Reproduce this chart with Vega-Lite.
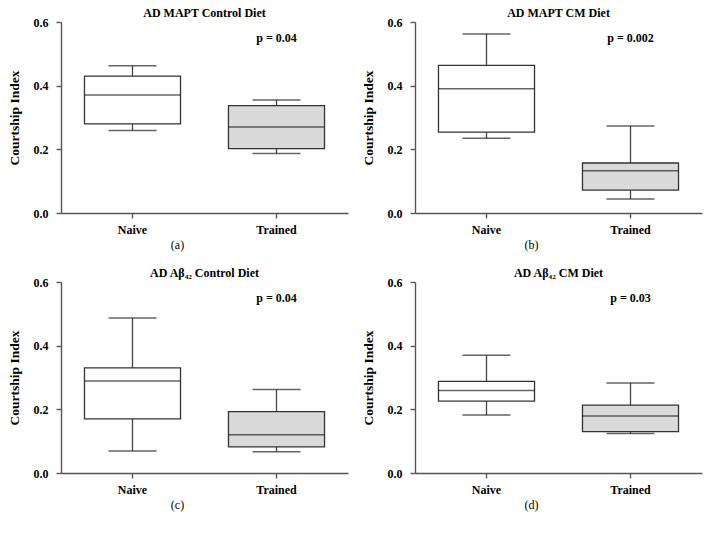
{
  "$schema": "https://vega.github.io/schema/vega-lite/v6.json",
  "background": "white",
  "padding": {"left": 7, "top": 7, "right": 5, "bottom": 5},
  "datasets": {
    "boxes": [
      {"panel": "a", "group": "Naive", "min": 0.259, "q1": 0.280, "median": 0.371, "q3": 0.430, "max": 0.4625},
      {"panel": "a", "group": "Trained", "min": 0.187, "q1": 0.202, "median": 0.270, "q3": 0.3375, "max": 0.355},
      {"panel": "b", "group": "Naive", "min": 0.235, "q1": 0.254, "median": 0.390, "q3": 0.464, "max": 0.562},
      {"panel": "b", "group": "Trained", "min": 0.044, "q1": 0.072, "median": 0.133, "q3": 0.157, "max": 0.273},
      {"panel": "c", "group": "Naive", "min": 0.069, "q1": 0.170, "median": 0.289, "q3": 0.330, "max": 0.487},
      {"panel": "c", "group": "Trained", "min": 0.067, "q1": 0.082, "median": 0.120, "q3": 0.193, "max": 0.262},
      {"panel": "d", "group": "Naive", "min": 0.182, "q1": 0.226, "median": 0.259, "q3": 0.288, "max": 0.370},
      {"panel": "d", "group": "Trained", "min": 0.124, "q1": 0.130, "median": 0.179, "q3": 0.213, "max": 0.283}
    ],
    "pvals": [
      {"panel": "a", "group": "Trained", "y": 0.55, "label": "p = 0.04"},
      {"panel": "b", "group": "Trained", "y": 0.55, "label": "p  =  0.002"},
      {"panel": "c", "group": "Trained", "y": 0.55, "label": "p = 0.04"},
      {"panel": "d", "group": "Trained", "y": 0.55, "label": "p = 0.03"}
    ]
  },
  "config": {
    "view": {"stroke": null},
    "font": "Liberation Serif",
    "title": {"font": "Liberation Serif", "fontSize": 12, "fontWeight": "bold", "color": "black", "offset": -4},
    "axis": {
      "domainColor": "#555", "domainWidth": 1.4, "tickColor": "#555", "tickWidth": 1.4, "tickSize": 5,
      "grid": false,
      "labelFont": "Liberation Serif", "labelFontSize": 12, "labelFontWeight": "bold", "labelColor": "black",
      "titleFont": "Liberation Serif", "titleFontSize": 12, "titleColor": "black"
    },
    "bar": {"stroke": "#333", "strokeWidth": 1.3},
    "tick": {"color": "#222", "thickness": 1.5},
    "rule": {"color": "#444", "strokeWidth": 1.3}
  },
  "columns": 2,
  "spacing": {"row": 17, "column": 13},
  "concat": [
    {
      "title": "AD MAPT Control Diet",
      "width": 287, "height": 191,
      "layer": [
        {"data": {"name": "boxes"}, "transform": [{"filter": "datum.panel === 'a'"}], "layer": [
          {"mark": "rule", "encoding": {"x": {"field": "group", "type": "nominal"}, "y": {"field": "min", "type": "quantitative"}, "y2": {"field": "q1"}}},
          {"mark": "rule", "encoding": {"x": {"field": "group", "type": "nominal"}, "y": {"field": "q3", "type": "quantitative"}, "y2": {"field": "max"}}},
          {"mark": {"type": "bar"}, "encoding": {"x": {"field": "group", "type": "nominal"}, "y": {"field": "q1", "type": "quantitative"}, "y2": {"field": "q3"}, "fill": {"field": "group", "type": "nominal", "scale": {"domain": ["Naive", "Trained"], "range": ["white", "#dadada"]}, "legend": null}}},
          {"mark": {"type": "tick", "size": 96}, "encoding": {"x": {"field": "group", "type": "nominal"}, "y": {"field": "median", "type": "quantitative"}}},
          {"mark": {"type": "tick", "size": 48}, "encoding": {"x": {"field": "group", "type": "nominal"}, "y": {"field": "min", "type": "quantitative"}}},
          {"mark": {"type": "tick", "size": 48}, "encoding": {"x": {"field": "group", "type": "nominal"}, "y": {"field": "max", "type": "quantitative"}}}
        ]},
        {"data": {"name": "pvals"}, "transform": [{"filter": "datum.panel === 'a'"}], "mark": {"type": "text", "font": "Liberation Serif", "fontWeight": "bold", "fontSize": 12, "baseline": "middle", "color": "black"},
         "encoding": {"x": {"field": "group", "type": "nominal"}, "y": {"field": "y", "type": "quantitative"}, "text": {"field": "label"}}}
      ],
      "encoding": {
        "x": {"field": "group", "type": "nominal", "scale": {"domain": ["Naive", "Trained"], "paddingInner": 0.333, "paddingOuter": 0.163}, "axis": {"title": "(a)", "titleFontWeight": "normal", "titleX": 116, "labelAngle": 0, "labelPadding": 6, "titlePadding": 4}},
        "y": {"type": "quantitative", "scale": {"domain": [0, 0.6], "nice": false}, "axis": {"title": "Courtship Index", "titleFontSize": 13.5, "titleFontWeight": "bold", "values": [0, 0.2, 0.4, 0.6], "format": ".1f", "labelPadding": 8, "titlePadding": 12}}
      }
    },
    {
      "title": "AD MAPT CM Diet",
      "width": 287, "height": 191,
      "layer": [
        {"data": {"name": "boxes"}, "transform": [{"filter": "datum.panel === 'b'"}], "layer": [
          {"mark": "rule", "encoding": {"x": {"field": "group", "type": "nominal"}, "y": {"field": "min", "type": "quantitative"}, "y2": {"field": "q1"}}},
          {"mark": "rule", "encoding": {"x": {"field": "group", "type": "nominal"}, "y": {"field": "q3", "type": "quantitative"}, "y2": {"field": "max"}}},
          {"mark": {"type": "bar"}, "encoding": {"x": {"field": "group", "type": "nominal"}, "y": {"field": "q1", "type": "quantitative"}, "y2": {"field": "q3"}, "fill": {"field": "group", "type": "nominal", "scale": {"domain": ["Naive", "Trained"], "range": ["white", "#dadada"]}, "legend": null}}},
          {"mark": {"type": "tick", "size": 96}, "encoding": {"x": {"field": "group", "type": "nominal"}, "y": {"field": "median", "type": "quantitative"}}},
          {"mark": {"type": "tick", "size": 48}, "encoding": {"x": {"field": "group", "type": "nominal"}, "y": {"field": "min", "type": "quantitative"}}},
          {"mark": {"type": "tick", "size": 48}, "encoding": {"x": {"field": "group", "type": "nominal"}, "y": {"field": "max", "type": "quantitative"}}}
        ]},
        {"data": {"name": "pvals"}, "transform": [{"filter": "datum.panel === 'b'"}], "mark": {"type": "text", "font": "Liberation Serif", "fontWeight": "bold", "fontSize": 12, "baseline": "middle", "color": "black"},
         "encoding": {"x": {"field": "group", "type": "nominal"}, "y": {"field": "y", "type": "quantitative"}, "text": {"field": "label"}}}
      ],
      "encoding": {
        "x": {"field": "group", "type": "nominal", "scale": {"domain": ["Naive", "Trained"], "paddingInner": 0.333, "paddingOuter": 0.163}, "axis": {"title": "(b)", "titleFontWeight": "normal", "titleX": 116, "labelAngle": 0, "labelPadding": 6, "titlePadding": 4}},
        "y": {"type": "quantitative", "scale": {"domain": [0, 0.6], "nice": false}, "axis": {"title": "Courtship Index", "titleFontSize": 13.5, "titleFontWeight": "bold", "values": [0, 0.2, 0.4, 0.6], "format": ".1f", "labelPadding": 8, "titlePadding": 12}}
      }
    },
    {
      "title": "AD Aβ₄₂ Control Diet",
      "width": 287, "height": 191,
      "layer": [
        {"data": {"name": "boxes"}, "transform": [{"filter": "datum.panel === 'c'"}], "layer": [
          {"mark": "rule", "encoding": {"x": {"field": "group", "type": "nominal"}, "y": {"field": "min", "type": "quantitative"}, "y2": {"field": "q1"}}},
          {"mark": "rule", "encoding": {"x": {"field": "group", "type": "nominal"}, "y": {"field": "q3", "type": "quantitative"}, "y2": {"field": "max"}}},
          {"mark": {"type": "bar"}, "encoding": {"x": {"field": "group", "type": "nominal"}, "y": {"field": "q1", "type": "quantitative"}, "y2": {"field": "q3"}, "fill": {"field": "group", "type": "nominal", "scale": {"domain": ["Naive", "Trained"], "range": ["white", "#dadada"]}, "legend": null}}},
          {"mark": {"type": "tick", "size": 96}, "encoding": {"x": {"field": "group", "type": "nominal"}, "y": {"field": "median", "type": "quantitative"}}},
          {"mark": {"type": "tick", "size": 48}, "encoding": {"x": {"field": "group", "type": "nominal"}, "y": {"field": "min", "type": "quantitative"}}},
          {"mark": {"type": "tick", "size": 48}, "encoding": {"x": {"field": "group", "type": "nominal"}, "y": {"field": "max", "type": "quantitative"}}}
        ]},
        {"data": {"name": "pvals"}, "transform": [{"filter": "datum.panel === 'c'"}], "mark": {"type": "text", "font": "Liberation Serif", "fontWeight": "bold", "fontSize": 12, "baseline": "middle", "color": "black"},
         "encoding": {"x": {"field": "group", "type": "nominal"}, "y": {"field": "y", "type": "quantitative"}, "text": {"field": "label"}}}
      ],
      "encoding": {
        "x": {"field": "group", "type": "nominal", "scale": {"domain": ["Naive", "Trained"], "paddingInner": 0.333, "paddingOuter": 0.163}, "axis": {"title": "(c)", "titleFontWeight": "normal", "titleX": 116, "labelAngle": 0, "labelPadding": 6, "titlePadding": 4}},
        "y": {"type": "quantitative", "scale": {"domain": [0, 0.6], "nice": false}, "axis": {"title": "Courtship Index", "titleFontSize": 13.5, "titleFontWeight": "bold", "values": [0, 0.2, 0.4, 0.6], "format": ".1f", "labelPadding": 8, "titlePadding": 12}}
      }
    },
    {
      "title": "AD Aβ₄₂ CM Diet",
      "width": 287, "height": 191,
      "layer": [
        {"data": {"name": "boxes"}, "transform": [{"filter": "datum.panel === 'd'"}], "layer": [
          {"mark": "rule", "encoding": {"x": {"field": "group", "type": "nominal"}, "y": {"field": "min", "type": "quantitative"}, "y2": {"field": "q1"}}},
          {"mark": "rule", "encoding": {"x": {"field": "group", "type": "nominal"}, "y": {"field": "q3", "type": "quantitative"}, "y2": {"field": "max"}}},
          {"mark": {"type": "bar"}, "encoding": {"x": {"field": "group", "type": "nominal"}, "y": {"field": "q1", "type": "quantitative"}, "y2": {"field": "q3"}, "fill": {"field": "group", "type": "nominal", "scale": {"domain": ["Naive", "Trained"], "range": ["white", "#dadada"]}, "legend": null}}},
          {"mark": {"type": "tick", "size": 96}, "encoding": {"x": {"field": "group", "type": "nominal"}, "y": {"field": "median", "type": "quantitative"}}},
          {"mark": {"type": "tick", "size": 48}, "encoding": {"x": {"field": "group", "type": "nominal"}, "y": {"field": "min", "type": "quantitative"}}},
          {"mark": {"type": "tick", "size": 48}, "encoding": {"x": {"field": "group", "type": "nominal"}, "y": {"field": "max", "type": "quantitative"}}}
        ]},
        {"data": {"name": "pvals"}, "transform": [{"filter": "datum.panel === 'd'"}], "mark": {"type": "text", "font": "Liberation Serif", "fontWeight": "bold", "fontSize": 12, "baseline": "middle", "color": "black"},
         "encoding": {"x": {"field": "group", "type": "nominal"}, "y": {"field": "y", "type": "quantitative"}, "text": {"field": "label"}}}
      ],
      "encoding": {
        "x": {"field": "group", "type": "nominal", "scale": {"domain": ["Naive", "Trained"], "paddingInner": 0.333, "paddingOuter": 0.163}, "axis": {"title": "(d)", "titleFontWeight": "normal", "titleX": 116, "labelAngle": 0, "labelPadding": 6, "titlePadding": 4}},
        "y": {"type": "quantitative", "scale": {"domain": [0, 0.6], "nice": false}, "axis": {"title": "Courtship Index", "titleFontSize": 13.5, "titleFontWeight": "bold", "values": [0, 0.2, 0.4, 0.6], "format": ".1f", "labelPadding": 8, "titlePadding": 12}}
      }
    }
  ]
}
